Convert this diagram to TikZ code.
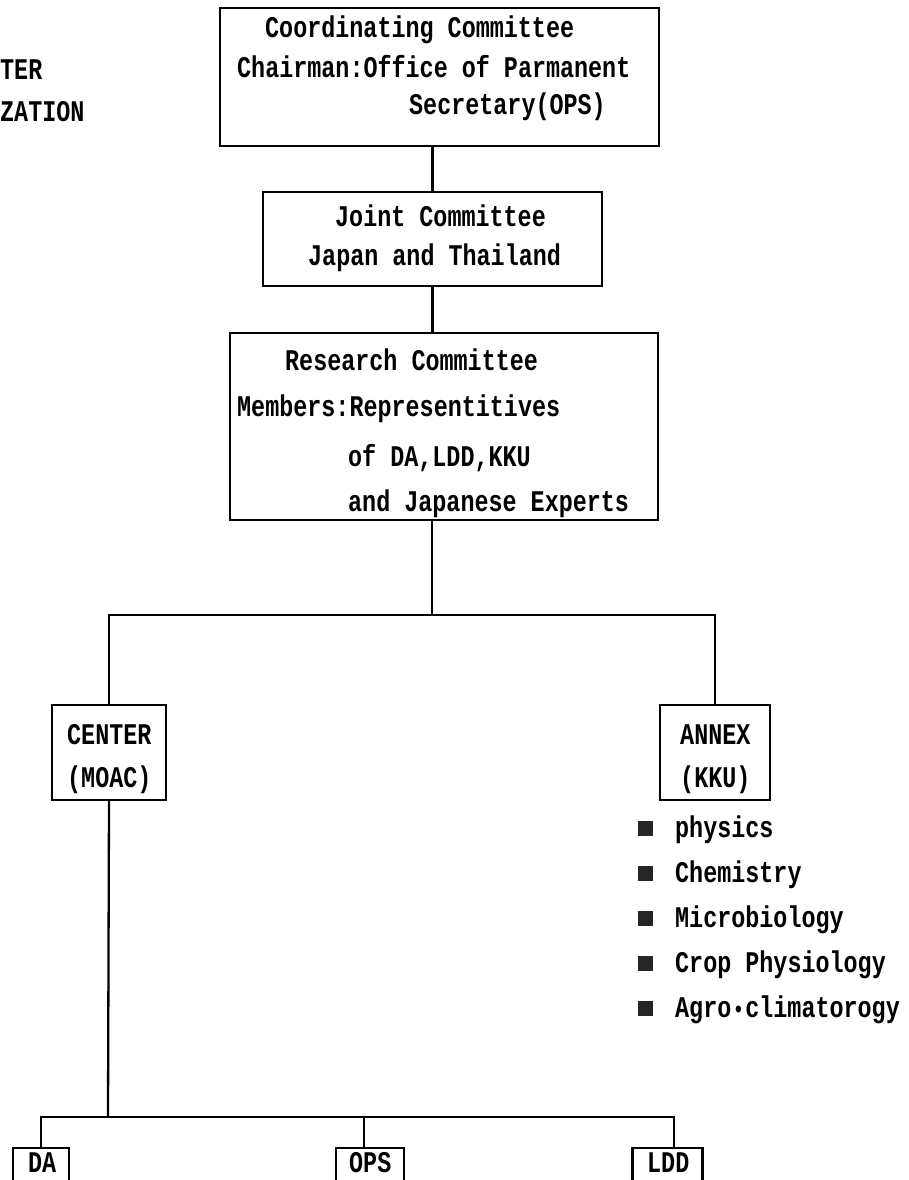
\documentclass[tikz,border=0pt]{standalone}
\usepackage{fontspec}
\newfontfamily\tw{Liberation Mono}[FakeStretch=0.78]
\begin{document}
\begin{tikzpicture}[x=1pt,y=-1pt,
  box/.style={draw, line width=2.3pt, inner sep=0pt},
  txt/.style={font=\tw\bfseries\fontsize{30}{30}\selectfont, inner sep=0pt, anchor=base west},
  con/.style={line width=2.3pt},
  bul/.style={fill=black!85, minimum size=15pt, inner sep=0pt}]
\useasboundingbox (0,0) rectangle (909,1180);
% left cut-off texts
\node[txt] (l1) at (0,80) {TER};
\node[txt] (l2) at (0,122) {ZATION};
% coordinating committee
\node[box, minimum width=439pt, minimum height=138pt] (coord) at (439.5,77) {};
\node[txt] (t1) at (265,38) {Coordinating Committee};
\node[txt] (t2) at (237,78) {Chairman:Office of Parmanent};
\node[txt] (t3) at (409,114) {Secretary(OPS)};
% joint committee
\node[box, minimum width=339pt, minimum height=94pt] (joint) at (432.5,239) {};
\node[txt] (j1) at (335,226) {Joint Committee};
\node[txt] (j2) at (308,265) {Japan and Thailand};
% research committee
\node[box, minimum width=428pt, minimum height=187pt] (research) at (444,426.5) {};
\node[txt] (r1) at (285,370) {Research Committee};
\node[txt] (r2) at (237,416) {Members:Representitives};
\node[txt] (r3) at (348,466) {of DA,LDD,KKU};
\node[txt] (r4) at (348,511) {and Japanese Experts};
% center / annex
\node[box, minimum width=114pt, minimum height=95pt] (center) at (109,752.5) {};
\node[txt] (c1) at (67,744) {CENTER};
\node[txt] (c2) at (67,787) {(MOAC)};
\node[box, minimum width=110pt, minimum height=95pt] (annex) at (715,752.5) {};
\node[txt] (a1) at (680,744) {ANNEX};
\node[txt] (a2) at (680,787) {(KKU)};
% bullets
\node[bul] (s1) at (645,828) {};
\node[txt] (b1t) at (675,837) {physics};
\node[bul] (s2) at (645,873) {};
\node[txt] (b2t) at (675,882) {Chemistry};
\node[bul] (s3) at (645,918) {};
\node[txt] (b3t) at (675,927) {Microbiology};
\node[bul] (s4) at (645,963) {};
\node[txt] (b4t) at (675,972) {Crop Physiology};
\node[bul] (s5) at (645,1008) {};
\node[txt] (b5t) at (675,1017) {Agro\makebox[14pt]{\scalebox{0.8}{•}}climatorogy};
% bottom boxes (cut by the lower edge)
\node[box, minimum width=56pt, minimum height=50pt] (da) at (41,1173) {};
\node[txt] (d1) at (28,1172) {DA};
\node[box, minimum width=68pt, minimum height=50pt] (ops) at (370,1173) {};
\node[txt] (o1) at (349,1172) {OPS};
\node[box, minimum width=70pt, minimum height=50pt] (ldd) at (667.5,1173) {};
\node[txt] (ld1) at (647,1172) {LDD};
% connectors
\coordinate (br1) at (432,615);
\coordinate (br2) at (108,1117);
\coordinate (opsin) at ([xshift=-6pt]ops.north);
\coordinate (lddin) at ([xshift=6.5pt]ldd.north);
\draw[con] (coord.south -| joint.north) -- (joint.north);
\draw[con] (joint.south) -- (joint.south |- research.north);
\draw[con] (research.south -| br1) -- (br1);
\draw[con] (center.north) -- (center.north |- br1) -- (annex.north |- br1) -- (annex.north);
\draw[con] (center.south) -- (br2);
\draw[con] (da.north) -- (da.north |- br2) -- (lddin |- br2) -- (lddin);
\draw[con] (opsin) -- (opsin |- br2);
\end{tikzpicture}
\end{document}
